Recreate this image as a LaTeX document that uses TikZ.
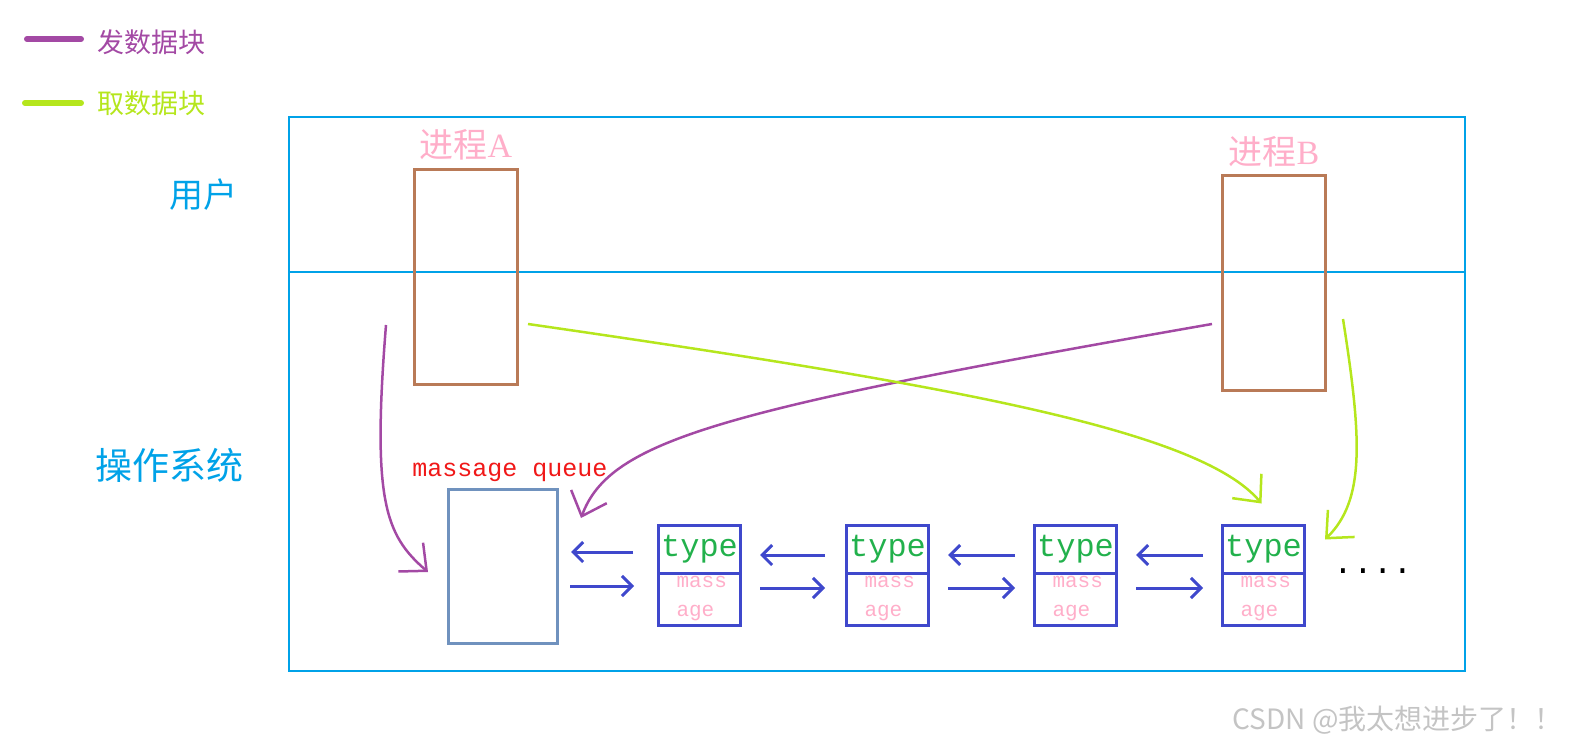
\documentclass[tikz,border=0pt]{standalone}
\usepackage{fontspec}
\setmainfont{Liberation Serif}
\setmonofont{Liberation Mono}
\newfontfamily\cjk{Noto Sans CJK SC}
\usepackage{tikz}
\usetikzlibrary{arrows.meta,positioning,shapes.multipart}
\definecolor{sendpurple}{HTML}{A349A4}
\definecolor{takegreen}{HTML}{B5E61D}
\definecolor{framecyan}{HTML}{00A2E8}
\definecolor{procbrown}{HTML}{B97A57}
\definecolor{procpink}{HTML}{FFAEC9}
\definecolor{linkblue}{HTML}{3F48CC}
\definecolor{queuegray}{HTML}{7092BE}
\definecolor{typegreen}{HTML}{22B14C}
\definecolor{queuered}{HTML}{F01818}
\definecolor{markgray}{HTML}{C4C4C4}
\tikzset{
  legendkey/.style={draw=#1, line width=6pt, line cap=round},
  legendtext/.style={text=#1, font=\cjk\fontsize{27}{30}\selectfont,
    anchor=west, inner sep=0pt},
  layertext/.style={text=framecyan, font=\cjk\fontsize{#1}{#1}\selectfont,
    inner sep=0pt},
  frameline/.style={draw=framecyan, line width=1.3pt},
  procbox/.style={rectangle, draw=procbrown, line width=3pt,
    minimum width=103pt, minimum height=214pt},
  proctext/.style={text=procpink, font=\fontsize{34}{36}\selectfont,
    inner sep=0pt},
  queuebox/.style={rectangle, draw=queuegray, line width=3pt,
    minimum width=109pt, minimum height=154pt},
  queuetext/.style={text=queuered, font=\ttfamily\fontsize{25}{28}\selectfont,
    inner sep=0pt},
  cellbox/.style={rectangle split, rectangle split parts=2,
    draw=linkblue, line width=3pt, inner sep=0pt},
  linkarrow/.style={-{Straight Barb[length=10pt,width=20pt]},
    draw=linkblue, line width=3pt},
  flowarrow/.style={-{Straight Barb[length=21pt,width=38pt]},
    draw=#1, line width=2.5pt},
  moretext/.style={font=\ttfamily\fontsize{33}{33}\selectfont, inner sep=0pt},
  marktext/.style={text=markgray, font=\cjk\fontsize{28}{30}\selectfont,
    inner sep=0pt},
}
\newcommand{\celltop}{\parbox[c][45pt][c]{82pt}{\centering
  \color{typegreen}\ttfamily\fontsize{32}{32}\selectfont type}}
\newcommand{\cellbottom}{\parbox[c][49pt][c]{82pt}{\raggedright
  \color{procpink}\ttfamily\fontsize{21}{29}\selectfont
  \hspace*{18pt}mass\\\hspace*{18pt}age}}

\begin{document}
\begin{tikzpicture}[x=1pt, y=-1pt, node distance=103pt]
  \useasboundingbox (0,0) rectangle (1579,751);

  \coordinate (sendkey) at (27,39);
  \coordinate (sendend) at (81,39);
  \coordinate (takekey) at (25,103);
  \coordinate (takeend) at (81,103);
  \draw[legendkey=sendpurple] (sendkey) -- (sendend);
  \draw[legendkey=takegreen] (takekey) -- (takeend);
  \node[legendtext=sendpurple] (sendtxt) at (97,42) {发数据块};
  \node[legendtext=takegreen] (taketxt) at (97,103) {取数据块};

  \draw[frameline] (289,117) rectangle (1465,671);
  \draw[frameline] (289,272) -- (1465,272);
  \node[layertext=34] (user) at (203,195) {用户};
  \node[layertext=37] (kernel) at (169,465) {操作系统};

  \node[procbox] (pa) at (466,277) {};
  \node[procbox] (pb) at (1274,283) {};
  \node[proctext, above=8pt of pa] (pa label) {{\cjk 进程}A};
  \node[proctext, above=7pt of pb] (pb label) {{\cjk 进程}B};

  \node[queuebox] (q) at (503,566.5) {};
  \node[queuetext, above=6pt of q, xshift=7pt] (q label) {massage queue};

  \node[cellbox] (n1) at (699.5,575) {\celltop\nodepart{two}\cellbottom};
  \node[cellbox, right=of n1] (n2) {\celltop\nodepart{two}\cellbottom};
  \node[cellbox, right=of n2] (n3) {\celltop\nodepart{two}\cellbottom};
  \node[cellbox, right=of n3] (n4) {\celltop\nodepart{two}\cellbottom};
  \node[moretext, right=27pt of n4, yshift=4pt] (more) {....};

  \draw[linkarrow] ([xshift=-24pt,yshift=23pt]n1.west) -- ([xshift=12pt,yshift=14.5pt]q.east);
  \draw[linkarrow] ([xshift=11pt,yshift=-19.5pt]q.east) -- ([xshift=-23pt,yshift=-11pt]n1.west);
  \draw[linkarrow] ([xshift=-20pt,yshift=20pt]n2.west) -- ([xshift=18pt,yshift=20pt]n1.east);
  \draw[linkarrow] ([xshift=18pt,yshift=-13pt]n1.east) -- ([xshift=-20pt,yshift=-13pt]n2.west);
  \draw[linkarrow] ([xshift=-18pt,yshift=20pt]n3.west) -- ([xshift=18pt,yshift=20pt]n2.east);
  \draw[linkarrow] ([xshift=18pt,yshift=-13pt]n2.east) -- ([xshift=-18pt,yshift=-13pt]n3.west);
  \draw[linkarrow] ([xshift=-18pt,yshift=20pt]n4.west) -- ([xshift=18pt,yshift=20pt]n3.east);
  \draw[linkarrow] ([xshift=18pt,yshift=-13pt]n3.east) -- ([xshift=-18pt,yshift=-13pt]n4.west);

  \draw[flowarrow=sendpurple] ([xshift=-27pt,yshift=-48pt]pa.west)
    .. controls (372,500) and (385,535) .. ([xshift=-19pt,yshift=-5.5pt]q.west);
  \draw[flowarrow=sendpurple] ([xshift=-9pt,yshift=-41pt]pb.west)
    .. controls (720,410) and (610,440) .. ([xshift=22pt,yshift=-30pt]q.north east);
  \draw[flowarrow=takegreen] ([xshift=9pt,yshift=-47pt]pa.east)
    .. controls (950,385) and (1200,430) .. ([xshift=-2pt,yshift=20pt]n4.north);
  \draw[flowarrow=takegreen] ([xshift=16pt,yshift=-36pt]pb.east)
    .. controls (1362,440) and (1365,500) .. ([xshift=19pt,yshift=-16pt]n4.north east);

  \node[marktext, anchor=east] (mark) at (1563,720) {CSDN @我太想进步了！！};
\end{tikzpicture}
\end{document}
